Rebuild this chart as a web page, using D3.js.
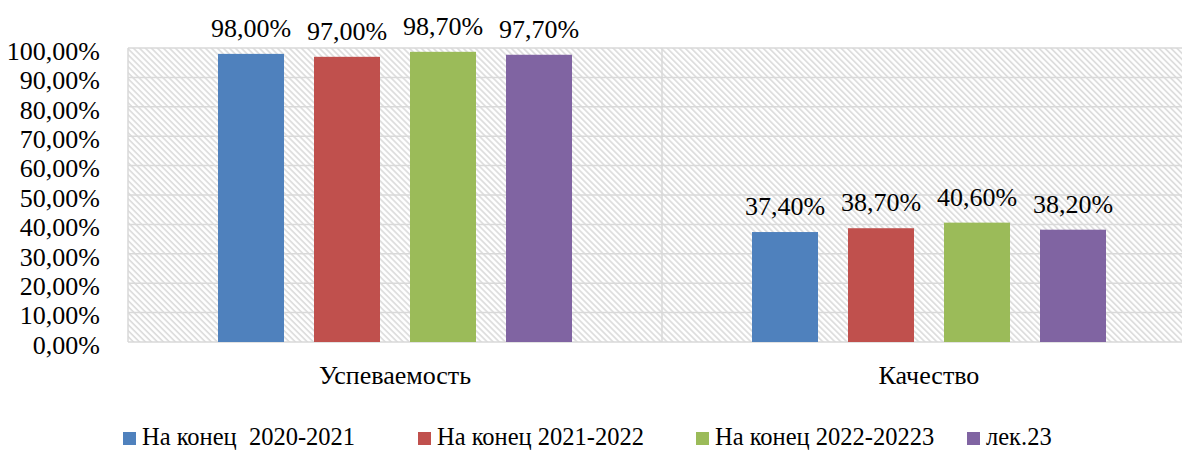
<!DOCTYPE html>
<html><head><meta charset="utf-8">
<script src="https://cdn.jsdelivr.net/npm/d3@7"></script>
<style>body{margin:0;background:#fff;} svg{display:block;}</style>
</head><body><svg id="c" width="1182" height="450"></svg>
<script>
const categories = ["Успеваемость", "Качество"];
const seriesNames = ["На конец  2020-2021", "На конец 2021-2022", "На конец 2022-20223", "лек.23"];
const seriesColors = ["#4f81bd", "#c0504d", "#9bbb59", "#8064a2"];
const values = [
  [0.980, 0.374],
  [0.970, 0.387],
  [0.987, 0.406],
  [0.977, 0.382]
];
const yTicks = [0,0.1,0.2,0.3,0.4,0.5,0.6,0.7,0.8,0.9,1.0];

const FONT = "'Liberation Serif', Tinos, 'Times New Roman', 'DejaVu Serif', serif";
const svg = d3.select("#c");
const L = 128, R = 1196, T = 48, B = 342;
const x0 = d3.scaleBand().domain(categories).range([L, R]);
const x1 = d3.scaleBand().domain(seriesNames).range([90, 444]).paddingInner(0.3125);
const y = d3.scaleLinear().domain([0, 1]).range([B, T]);
const fmt = v => d3.format(".2f")(v*100).replace(".", ",") + "%";

const defs = svg.append("defs");
const pat = defs.append("pattern").attr("id","hatch").attr("patternUnits","userSpaceOnUse")
  .attr("width",4.24).attr("height",4.24).attr("patternTransform","rotate(-45)");
pat.append("rect").attr("width",4.24).attr("height",4.24).attr("fill","#fff");
pat.append("line").attr("x1",1).attr("x2",1).attr("y1",0).attr("y2",4.24)
  .attr("stroke","#dadada").attr("stroke-width",1.6);

svg.append("rect").attr("x",L).attr("y",T).attr("width",R-L).attr("height",B-T).attr("fill","url(#hatch)");

svg.append("g").selectAll("line").data(yTicks).join("line")
  .attr("x1",L).attr("x2",R).attr("y1",d=>y(d)).attr("y2",d=>y(d))
  .attr("stroke","#d9d9d9").attr("stroke-width",1.5);
svg.append("g").selectAll("line").data([L, x0(categories[1])]).join("line")
  .attr("x1",d=>d).attr("x2",d=>d).attr("y1",T).attr("y2",B)
  .attr("stroke","#d9d9d9").attr("stroke-width",1.5);

const yAxis = d3.axisLeft(y).tickValues(yTicks).tickFormat(fmt).tickSize(0).tickPadding(28);
const ga = svg.append("g").attr("transform",`translate(${L},3)`).call(yAxis)
  .attr("font-family", FONT).attr("font-size", 26);
ga.select(".domain").remove();
ga.selectAll("text").attr("font-family", FONT).attr("font-size", 26).attr("fill","#000");

const groups = svg.append("g").selectAll("g").data(seriesNames).join("g");
groups.each(function(s, si){
  const g = d3.select(this);
  categories.forEach((c, ci) => {
    const v = values[si][ci];
    g.append("rect").attr("x", x0(c) + x1(s)).attr("y", y(v))
      .attr("width", x1.bandwidth()).attr("height", y(0) - y(v)).attr("fill", seriesColors[si]);
    g.append("text").attr("x", x0(c) + x1(s) + x1.bandwidth()/2).attr("y", y(v) - 17)
      .attr("text-anchor","middle").attr("font-family", FONT).attr("font-size", 26).text(fmt(v));
  });
});

svg.append("g").selectAll("text").data(categories).join("text")
  .attr("x", d => x0(d) + 267).attr("y", 384).attr("text-anchor","middle")
  .attr("font-family", FONT).attr("font-size", 26).text(d=>d);

const legX = [123, 418, 696, 967];
const lg = svg.append("g").selectAll("g").data(seriesNames).join("g")
  .attr("transform",(d,i)=>`translate(${legX[i]},432)`);
lg.append("rect").attr("width",13).attr("height",13).attr("fill",(d,i)=>seriesColors[i]);
lg.append("text").attr("x",19).attr("y",13).attr("font-family", FONT).attr("font-size", 24.5)
  .attr("xml:space","preserve").style("white-space","pre").text(d=>d);
</script></body></html>
